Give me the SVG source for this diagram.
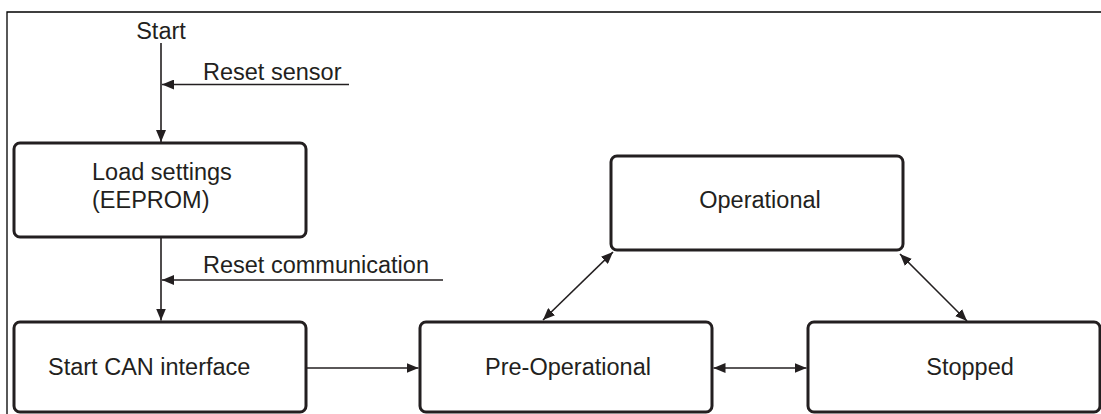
<svg xmlns="http://www.w3.org/2000/svg" width="1101" height="414" viewBox="0 0 1101 414">
<defs>
<style>
.box{fill:#fff;stroke:#231f20;stroke-width:3}
.t{font-family:"Liberation Sans",Arial,Helvetica,sans-serif;font-size:23.5px;fill:#231f20}
.c{stroke:#231f20;stroke-width:1.6;fill:none}
.frame{stroke:#000;stroke-width:1.3;fill:none}
</style>
<marker id="ah" viewBox="0 0 12 10" refX="12" refY="5" markerWidth="12" markerHeight="10" markerUnits="userSpaceOnUse" orient="auto-start-reverse">
<path d="M0,0 L12,5 L0,10 z" fill="#231f20"/>
</marker>
</defs>
<rect width="1101" height="414" fill="#fff"/>
<path class="frame" d="M7,414 V12 H1101"/>
<g id="start"><text class="t" x="161" y="39" text-anchor="middle">Start</text></g>
<g id="reset-sensor"><text class="t" x="203" y="80">Reset sensor</text></g>
<g id="reset-comm"><text class="t" x="203" y="273">Reset communication</text></g>
<g id="load"><rect class="box" x="14" y="143" width="292" height="94" rx="6"/><text class="t" x="92" y="180">Load settings</text><text class="t" x="92" y="208">(EEPROM)</text></g>
<g id="startcan"><rect class="box" x="14" y="322" width="292" height="90" rx="6"/><text class="t" x="48" y="375">Start CAN interface</text></g>
<g id="preop"><rect class="box" x="420" y="322" width="292" height="90" rx="6"/><text class="t" x="568" y="375" text-anchor="middle">Pre-Operational</text></g>
<g id="op"><rect class="box" x="611" y="156" width="292" height="94" rx="6"/><text class="t" x="760" y="208" text-anchor="middle">Operational</text></g>
<g id="stopped"><rect class="box" x="808" y="322" width="292" height="90" rx="6"/><text class="t" x="970" y="375" text-anchor="middle">Stopped</text></g>
<g id="connectors">
<path class="c" d="M161,43 V142" marker-end="url(#ah)"/>
<path class="c" d="M349,84.5 H162" marker-end="url(#ah)"/>
<path class="c" d="M161,237 V320.5" marker-end="url(#ah)"/>
<path class="c" d="M443,280 H162" marker-end="url(#ah)"/>
<path class="c" d="M306,368 H418.5" marker-end="url(#ah)"/>
<path class="c" d="M713.5,368 H806.5" marker-start="url(#ah)" marker-end="url(#ah)"/>
<path class="c" d="M543,320 L613,252" marker-start="url(#ah)" marker-end="url(#ah)"/>
<path class="c" d="M900,254 L967,321" marker-start="url(#ah)" marker-end="url(#ah)"/>
</g>
</svg>
